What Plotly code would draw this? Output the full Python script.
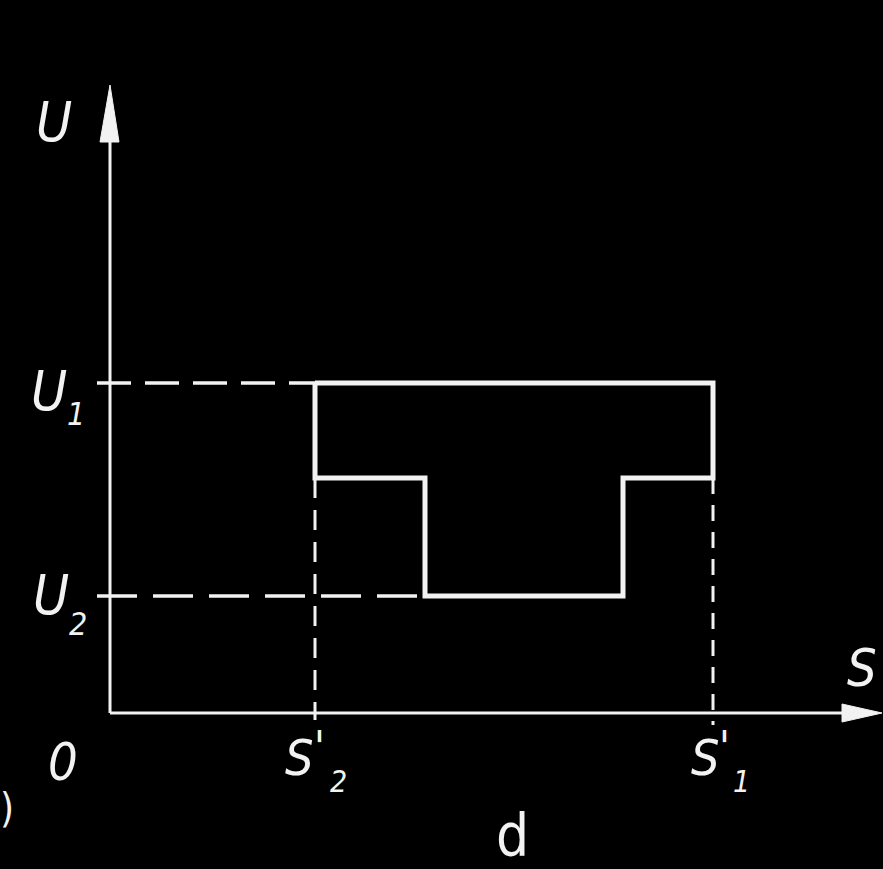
import plotly.graph_objects as go

# Characteristic levels (S axis and U axis, arbitrary units)
s_levels = {"S2p": 2.05, "s_a": 3.15, "s_b": 5.13, "S1p": 6.03}
u_levels = {"U1": 3.30, "U_mid": 2.35, "U2": 1.17}
axis_ends = {"s_max": 7.70, "u_max": 6.28}

S2p, sa, sb, S1p = s_levels["S2p"], s_levels["s_a"], s_levels["s_b"], s_levels["S1p"]
U1, Um, U2 = u_levels["U1"], u_levels["U_mid"], u_levels["U2"]

WHITE = "#f2f2f2"
fig = go.Figure()


def line(xs, ys, width, dash="solid"):
    fig.add_trace(go.Scatter(x=xs, y=ys, mode="lines", hoverinfo="skip",
                             line=dict(color=WHITE, width=width, dash=dash)))


def tri(xs, ys):
    fig.add_trace(go.Scatter(x=xs, y=ys, mode="lines", fill="toself", fillcolor=WHITE,
                             hoverinfo="skip", line=dict(color=WHITE, width=1)))


# Axes
line([0, axis_ends["s_max"] - 0.3], [0, 0], 3)
line([0, 0], [0, axis_ends["u_max"] - 0.5], 3)
tri([axis_ends["s_max"] - 0.38, axis_ends["s_max"] + 0.02, axis_ends["s_max"] - 0.38, axis_ends["s_max"] - 0.38],
    [0.09, 0.0, -0.09, 0.09])
tri([-0.10, 0.0, 0.09, -0.10],
    [axis_ends["u_max"] - 0.57, axis_ends["u_max"], axis_ends["u_max"] - 0.57, axis_ends["u_max"] - 0.57])

# Dashed guides
line([-0.13, S2p], [U1, U1], 3.5, "34px,14px")
line([-0.13, sa], [U2, U2], 3.5, "40px,16px")
line([S2p, S2p], [Um, -0.07], 3, "20px,12px")
line([S1p, S1p], [Um, -0.12], 3, "16px,11px")

# Step contour
line([S2p, S1p, S1p, sb, sb, sa, sa, S2p, S2p],
     [U1, U1, Um, Um, U2, U2, Um, Um, U1], 5)

FONT = "Liberation Sans Narrow, DejaVu Sans Condensed, Liberation Sans, sans-serif"


def label(x, y, text, size, italic=True):
    t = f"<i>{text}</i>" if italic else text
    fig.add_annotation(x=x, y=y, text=t, showarrow=False, xanchor="center", yanchor="middle",
                       font=dict(family=FONT, size=size, color=WHITE))


label(-0.56, 5.91, "U", 55)
label(-0.61, 3.22, "U", 55)
label(-0.34, 2.99, "1", 32)
label(-0.59, 1.18, "U", 55)
label(-0.32, 0.89, "2", 32)
label(-0.47, -0.49, "0", 52)
label(1.89, -0.45, "S", 50)
label(2.09, -0.34, "'", 44)
label(2.28, -0.68, "2", 30)
label(5.95, -0.45, "S", 50)
label(6.14, -0.34, "'", 44)
label(6.31, -0.68, "1", 30)
label(7.52, 0.45, "S", 52)
label(4.02, -1.23, "d", 58, italic=False)
label(-1.03, -0.95, ")", 40, italic=False)

fig.update_layout(
    width=883, height=869, margin=dict(l=0, r=0, t=0, b=0),
    paper_bgcolor="black", plot_bgcolor="black", showlegend=False,
    xaxis=dict(range=[-1.10, 7.73], visible=False, fixedrange=True),
    yaxis=dict(range=[-1.56, 7.13], visible=False, fixedrange=True),
)

fig.write_html("out.html")
